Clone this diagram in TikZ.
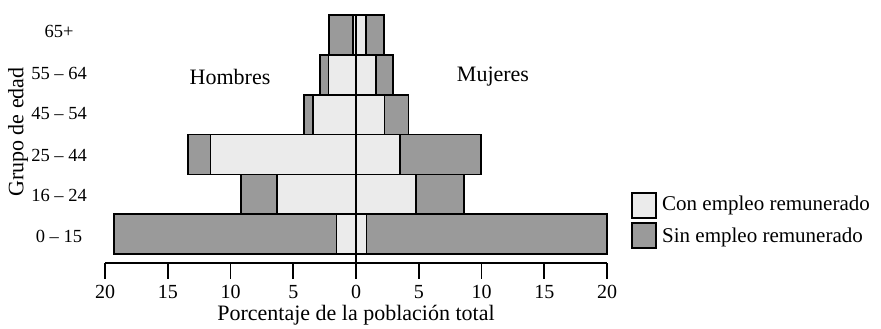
\documentclass[tikz,border=0pt]{standalone}
\usepackage{fontspec}
\setmainfont{Liberation Serif}
\definecolor{lightfill}{HTML}{EBEBEB}
\definecolor{darkfill}{HTML}{9A9A9A}
\begin{document}
\begin{tikzpicture}[x=1pt,y=-1pt,
  lightbar/.style={fill=lightfill,draw=black,line width=1.6pt},
  darkbar/.style={fill=darkfill,draw=black,line width=1.6pt},
  axisline/.style={draw=black,line width=1.6pt},
  lbl/.style={font=\fontsize{22}{26}\selectfont,inner sep=0pt},
  leglbl/.style={font=\fontsize{21}{24}\selectfont,inner sep=0pt,anchor=west},
  ticklbl/.style={font=\fontsize{20}{24}\selectfont,inner sep=0pt},
  grplbl/.style={font=\fontsize{18.5}{22}\selectfont,inner sep=0pt}]
\useasboundingbox (0,0) rectangle (881,329);
\begin{scope}[xshift=356pt,x=12.55pt]
  \foreach \tp/\bt/\md/\ml/\fl/\fd in {
      15/54.8/-2.15/-0.25/0.8/2.25,
      54.8/94.7/-2.88/-2.2/1.6/2.97,
      94.7/134.5/-4.12/-3.43/2.28/4.18,
      134.5/174.3/-13.4/-11.6/3.52/9.95,
      174.3/214.2/-9.15/-6.3/4.8/8.6,
      214.2/254/-19.3/-1.55/0.85/20} {
    \draw[darkbar] (\md,\tp) rectangle (\ml,\bt);
    \draw[lightbar] (\ml,\tp) rectangle (0,\bt);
    \draw[lightbar] (0,\tp) rectangle (\fl,\bt);
    \draw[darkbar] (\fl,\tp) rectangle (\fd,\bt);
  }
  \draw[axisline] (0,15) -- (0,279);
  \draw[axisline] (-20,263) -- (20,263);
  \foreach \v/\t in {-20/20,-15/15,-10/10,-5/5,0/0,5/5,10/10,15/15,20/20} {
    \draw[axisline] (\v,263) -- (\v,279);
    \node[ticklbl] (tick\v) at (\v,292) {\t};
  }
  \node[lbl] (xtitle) at (0,315) {Porcentaje de la población total};
\end{scope}
\node[lbl] (hombres) at (230,77) {Hombres};
\node[lbl] (mujeres) at (493,77) {Mujeres};
\node[lbl,rotate=90] (ytitle) at (18,132) {Grupo de edad};
\node[grplbl] (g1) at (59,31) {65+};
\node[grplbl] (g2) at (59,73) {55 – 64};
\node[grplbl] (g3) at (59,114) {45 – 54};
\node[grplbl] (g4) at (59,155) {25 – 44};
\node[grplbl] (g5) at (59,195) {16 – 24};
\node[grplbl] (g6) at (59,236) {0 – 15};
\draw[lightbar] (632,193) rectangle (656,218);
\draw[darkbar] (632,223) rectangle (656,248);
\node[leglbl] (leg1) at (662,205) {Con empleo remunerado};
\node[leglbl] (leg2) at (662,237) {Sin empleo remunerado};
\end{tikzpicture}
\end{document}
